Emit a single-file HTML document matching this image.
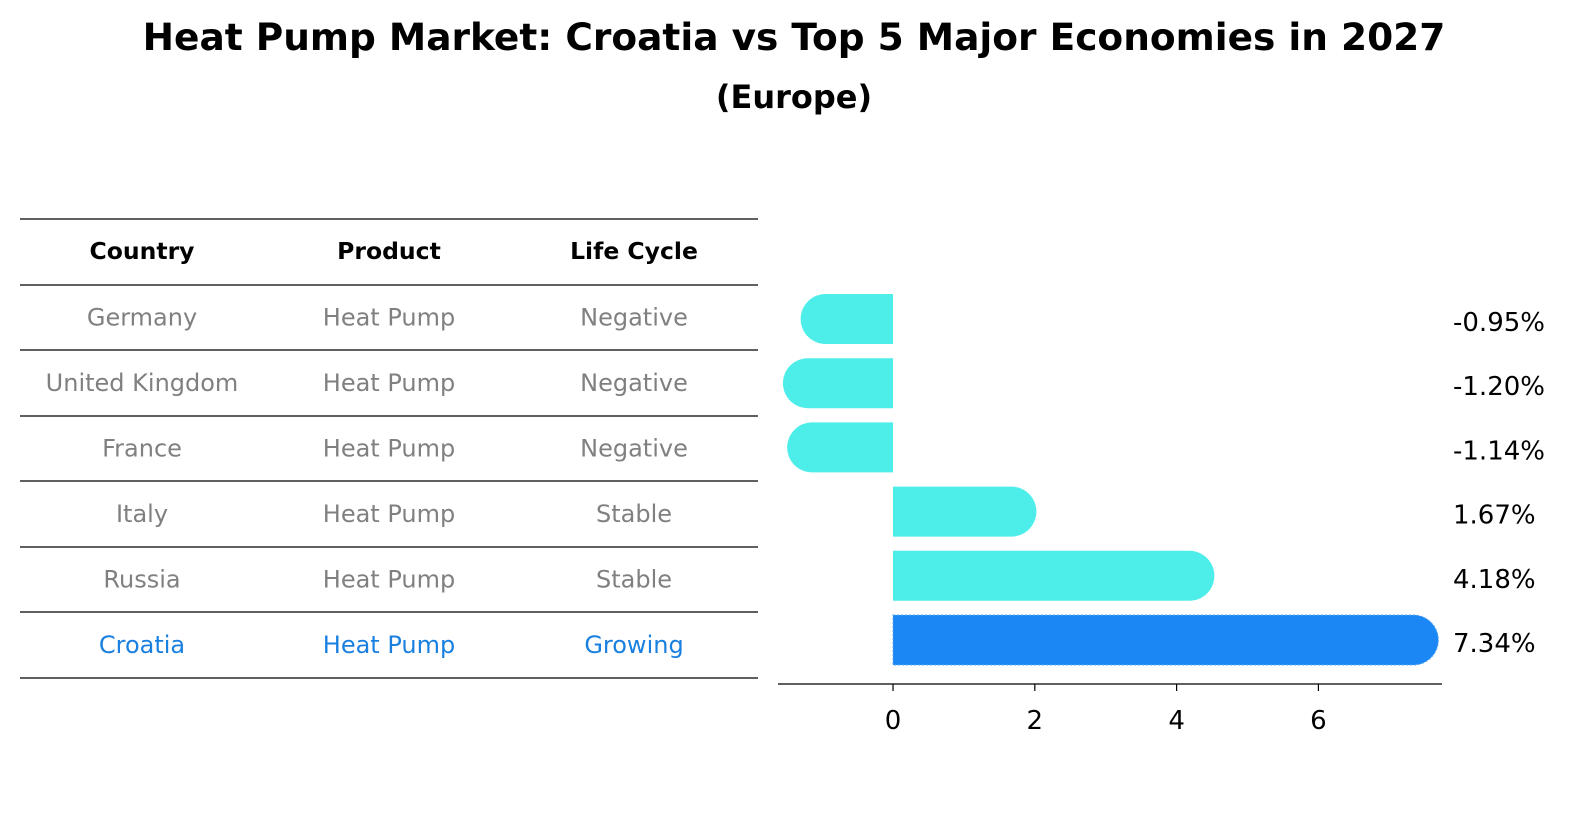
<!DOCTYPE html>
<html><head><meta charset="utf-8"><style>
body{margin:0;background:#fff;font-family:"DejaVu Sans","Liberation Sans",sans-serif;}
</style></head><body>
<svg width="1596" height="823" xmlns="http://www.w3.org/2000/svg" font-family="DejaVu Sans, Liberation Sans, sans-serif">
<text x="794" y="50" text-anchor="middle" font-size="37.5" font-weight="bold">Heat Pump Market: Croatia vs Top 5 Major Economies in 2027</text>
<text x="794" y="108" text-anchor="middle" font-size="32" font-weight="bold">(Europe)</text>
<g id="table"></g>
<g id="bars"></g>
</svg>
<script>
const countries=["Germany","United Kingdom","France","Italy","Russia","Croatia"];
const products=["Heat Pump","Heat Pump","Heat Pump","Heat Pump","Heat Pump","Heat Pump"];
const lifeCycle=["Negative","Negative","Negative","Stable","Stable","Growing"];
const values=[-0.95,-1.20,-1.14,1.67,4.18,7.34];
const ticks=[0,2,4,6];
const NS="http://www.w3.org/2000/svg";
function mk(tag,attrs,parent,text){const e=document.createElementNS(NS,tag);for(const k in attrs)e.setAttribute(k,attrs[k]);if(text!==undefined)e.textContent=text;parent.appendChild(e);return e;}
const tbl=document.getElementById('table');
const lineY=[219,285,350,416,481,547,612,678];
lineY.forEach(y=>{const l=mk('line',{x1:20,x2:758,y1:y,y2:y,stroke:'#000','stroke-width':1.3},tbl);

});
const colX=[142,389,634];
["Country","Product","Life Cycle"].forEach((h,i)=>{const t=mk('text',{x:colX[i],y:259,'text-anchor':'middle','font-size':23.5,'font-weight':'bold'},tbl,h);

});
countries.forEach((c,r)=>{const y=(lineY[r+1]+lineY[r+2])/2+8;const col=r===5?'#1a80e0':'#808080';
[c,products[r],lifeCycle[r]].forEach((v,i)=>{const t=mk('text',{x:colX[i],y:y,'text-anchor':'middle','font-size':24,fill:col},tbl,v);

});});
const g=document.getElementById('bars');
const x0=893,scale=70.9;const X=v=>x0+v*scale;
const rowY=r=>319+r*64.2;const rad=25;
values.forEach((v,r)=>{const cy=rowY(r);const xe=X(v);const dir=v>=0?1:-1;const base=x0;
const d=`M${base},${cy-rad} L${xe},${cy-rad} A${rad},${rad} 0 0 ${dir>0?1:0} ${xe},${cy+rad} L${base},${cy+rad} Z`;
const p=mk('path',{d:d,fill:r===5?'#1a87f5':'#4deeea'},g);
if(r===5){p.setAttribute('stroke','#5aa8f0');p.setAttribute('stroke-dasharray','2,2');}


const t=mk('text',{x:1453,y:cy+12,'font-size':26},g,v.toFixed(2)+'%');

});
const ax=mk('line',{x1:778,x2:1442,y1:684,y2:684,stroke:'#000','stroke-width':1.3},g);


ticks.forEach(tv=>{const x=X(tv);const tk=mk('line',{x1:x,x2:x,y1:684,y2:691,stroke:'#000','stroke-width':1.2},g);


const t=mk('text',{x:x,y:729,'text-anchor':'middle','font-size':26},g,String(tv));

});
</script>
</body></html>
